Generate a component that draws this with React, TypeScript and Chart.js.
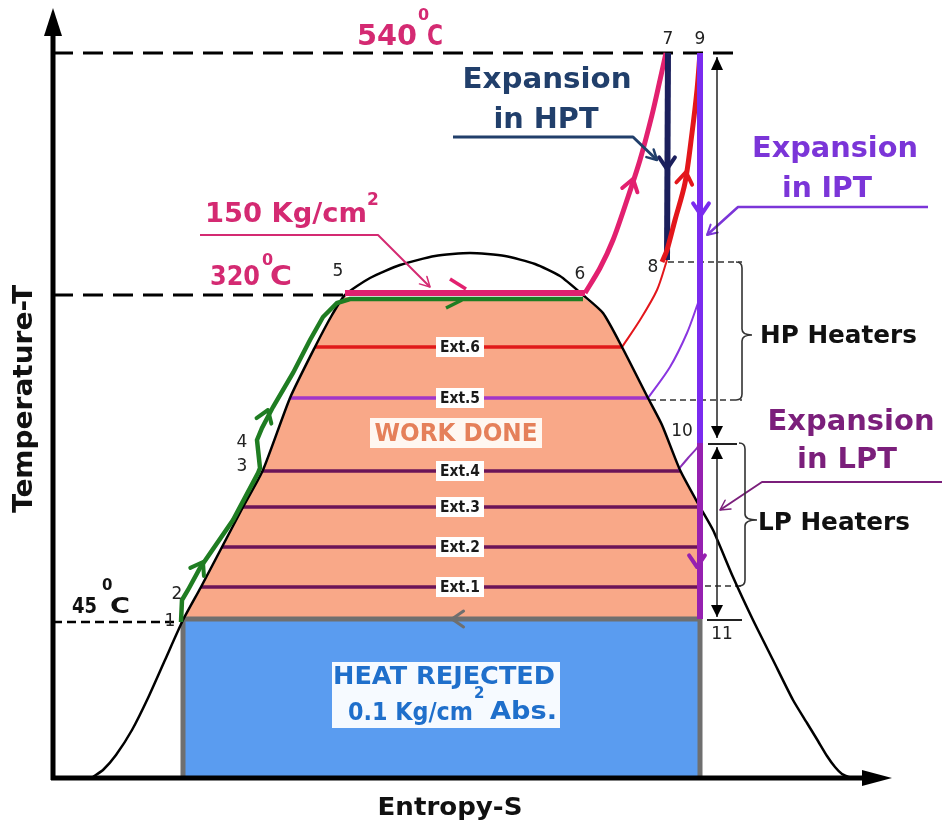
import React, { useEffect, useRef } from 'react';
import { Chart, registerables } from 'chart.js';

Chart.register(...registerables);

// ===== Data (s = entropy axis units, T = temperature axis units) =====
// Saturation dome
const domeS = [93, 103, 116, 132, 148, 165, 183, 201, 222, 243, 263, 290, 315, 332, 345, 370, 400, 435, 470, 505, 535, 560, 583, 603, 622, 648, 662, 680, 700, 713, 733, 753, 773, 793, 807, 818, 827, 835, 842, 849];
const domeT = [47, 54, 69, 94, 126, 164, 204, 237, 277, 317, 354, 426, 477, 509, 529, 546, 559, 568, 571, 568, 560, 548, 529, 511, 477, 426, 399, 354, 317, 294, 247, 204, 164, 124, 101, 83, 68, 57, 50, 47];
// Work done area
const workS = [183, 201, 222, 243, 263, 290, 315, 332, 345, 583, 603, 622, 648, 662, 680, 700, 700];
const workT = [205, 237, 277, 317, 354, 426, 477, 509, 527, 527, 511, 477, 426, 399, 354, 317, 205];
// Heat rejected area
const rejS = [183, 700, 700, 183];
const rejT = [205, 205, 46, 46];
// Feed water heating 1-2-3-4-5 (green)
const feedS = [181, 182, 188, 200, 233, 258, 260, 257, 262, 273, 293, 310, 323, 337, 350, 583];
const feedT = [202, 224, 234, 256, 304, 351, 356, 384, 396, 417, 451, 484, 507, 521, 525, 525];
// Evaporation 5-6
const boilS = [345, 585];
const boilT = [531, 531];
// Superheating 6-7
const superS = [585, 600, 613, 627, 640, 652, 660, 666];
const superT = [531, 556, 584, 624, 664, 709, 744, 771];
// HPT expansion 7-8
const hptS = [668, 667];
const hptT = [771, 564];
// Reheat 8-9
const reheatS = [662, 667, 675, 685, 692, 697, 700];
const reheatT = [562, 574, 604, 641, 691, 734, 771];
// IPT expansion 9-10, LPT expansion 10-11
const iptS = [700, 700];
const iptT = [771, 381];
const lptS = [700, 700];
const lptT = [383, 205];
// Extraction lines
const extNames = ['Ext.1', 'Ext.2', 'Ext.3', 'Ext.4', 'Ext.5', 'Ext.6'];
const extT = [237, 277, 317, 353, 426, 477];
const extStartS = [201, 222, 243, 263, 290, 315];
const extEndS = [700, 700, 700, 680, 648, 622];
const extLabelS = 460;
// Bleed curves
const ext6CurveS = [622, 640, 657, 667];
const ext6CurveT = [477, 504, 534, 564];
const ext5CurveS = [648, 670, 687, 698];
const ext5CurveT = [426, 457, 491, 521];
const ext4CurveS = [678, 688, 697, 700];
const ext4CurveT = [354, 366, 376, 381];
// Isotherms (540, 320, 45 °C)
const isoT = [771, 529, 202];
const isoEndS = [740, 345, 178];
// Heater limits
const heaterLineS0 = [668, 650, 705];
const heaterLineS1 = [742, 742, 745];
const heaterLineT = [562, 424, 238];
// State point labels
const pointNames = ['1', '2', '3', '4', '5', '6', '7', '8', '9', '10', '11'];
const pointS = [170, 177, 242, 242, 338, 580, 668, 653, 700, 682, 722];
const pointT = [202, 229, 357, 381, 552, 549, 784, 556, 784, 392, 189];
// Axes
const axisS0 = 53;
const axisT0 = 46;
const axisSMax = 892;
const axisTMax = 816;

// ===== Styles =====
const FONT = '"DejaVu Sans", "Liberation Sans", Arial, sans-serif';
const ORANGE = '#F9A888';
const BLUE = '#5A9CF0';
const GRAY = '#6F6F6F';
const GREEN = '#1F7D22';
const PINK = '#E2206F';
const PINK_TXT = '#D42A72';
const NAVY = '#1B1F5C';
const RED = '#E3161B';
const VIOLET = '#7A2BEF';
const PURPLE = '#9620B0';
const EXT_DARK = '#6B1458';
const extColors = [EXT_DARK, EXT_DARK, EXT_DARK, EXT_DARK, '#A236C9', '#E01A1A'];

const pts = (s: number[], t: number[]) => s.map((v, i) => ({ x: v, y: t[i] }));
const lineDs = (s: number[], t: number[], color: string, width: number, extra: any = {}) => ({
  data: pts(s, t),
  showLine: true,
  borderColor: color,
  backgroundColor: color,
  borderWidth: width,
  pointRadius: 0,
  pointHoverRadius: 0,
  fill: false,
  tension: 0,
  ...extra,
});

function drawText(ctx: CanvasRenderingContext2D, str: string, x: number, y: number, font: string, color: string, align: string = 'left', fit?: number, baseline: CanvasTextBaseline = 'alphabetic') {
  ctx.save();
  ctx.font = font;
  ctx.fillStyle = color;
  ctx.textBaseline = baseline;
  ctx.textAlign = 'left';
  const w = ctx.measureText(str).width;
  const k = fit ? fit / w : 1;
  const ww = w * k;
  let left = x;
  if (align === 'center') left = x - ww / 2;
  else if (align === 'right') left = x - ww;
  ctx.translate(left, y);
  ctx.scale(k, 1);
  ctx.fillText(str, 0, 0);
  ctx.restore();
}

function chevron(ctx: CanvasRenderingContext2D, tx: number, ty: number, bx: number, by: number, color: string, width: number, len = 14, spread = 0.6) {
  const a = Math.atan2(ty - by, tx - bx);
  ctx.save();
  ctx.strokeStyle = color;
  ctx.lineWidth = width;
  ctx.lineCap = 'round';
  ctx.lineJoin = 'round';
  ctx.beginPath();
  ctx.moveTo(tx - len * Math.cos(a - spread), ty - len * Math.sin(a - spread));
  ctx.lineTo(tx, ty);
  ctx.lineTo(tx - len * Math.cos(a + spread), ty - len * Math.sin(a + spread));
  ctx.stroke();
  ctx.restore();
}

function tri(ctx: CanvasRenderingContext2D, tx: number, ty: number, angle: number, len: number, hw: number, color: string) {
  const c = Math.cos(angle), s = Math.sin(angle);
  const bx = tx - len * c, by = ty - len * s;
  ctx.save();
  ctx.beginPath();
  ctx.moveTo(tx, ty);
  ctx.lineTo(bx - hw * s, by + hw * c);
  ctx.lineTo(bx + hw * s, by - hw * c);
  ctx.closePath();
  ctx.fillStyle = color;
  ctx.fill();
  ctx.restore();
}

function poly(ctx: CanvasRenderingContext2D, p: number[][], color: string, width: number) {
  ctx.save();
  ctx.strokeStyle = color;
  ctx.lineWidth = width;
  ctx.lineJoin = 'round';
  ctx.beginPath();
  p.forEach((q, i) => (i ? ctx.lineTo(q[0], q[1]) : ctx.moveTo(q[0], q[1])));
  ctx.stroke();
  ctx.restore();
}

function brace(ctx: CanvasRenderingContext2D, x: number, yTop: number, yBot: number, yMid: number, tipX: number) {
  const r = 6;
  ctx.save();
  ctx.strokeStyle = '#333';
  ctx.lineWidth = 1.6;
  ctx.beginPath();
  ctx.moveTo(x - r, yTop);
  ctx.quadraticCurveTo(x, yTop, x, yTop + r);
  ctx.lineTo(x, yMid - r);
  ctx.quadraticCurveTo(x, yMid, tipX, yMid);
  ctx.quadraticCurveTo(x, yMid, x, yMid + r);
  ctx.lineTo(x, yBot - r);
  ctx.quadraticCurveTo(x, yBot, x - r, yBot);
  ctx.stroke();
  ctx.restore();
}

const annotPlugin = {
  id: 'tsAnnot',
  beforeDatasetsDraw(chart: any) {
    const ctx = chart.ctx;
    chart.data.datasets.forEach((ds: any, i: number) => {
      if (!ds.polyFill) return;
      const meta = chart.getDatasetMeta(i);
      ctx.save();
      ctx.beginPath();
      meta.data.forEach((p: any, j: number) => (j ? ctx.lineTo(p.x, p.y) : ctx.moveTo(p.x, p.y)));
      ctx.closePath();
      ctx.fillStyle = ds.polyFill;
      ctx.fill();
      ctx.restore();
    });
  },
  afterDatasetsDraw(chart: any) {
    const ctx: CanvasRenderingContext2D = chart.ctx;
    const X = (v: number) => chart.scales.x.getPixelForValue(v);
    const Y = (v: number) => chart.scales.y.getPixelForValue(v);
    const P = (a: number[][]) => a.map((q) => [X(q[0]), Y(q[1])]);

    // Axes
    poly(ctx, P([[axisS0, axisT0 - 2], [axisS0, axisTMax - 20]]), '#000', 5);
    poly(ctx, P([[axisS0 - 2, axisT0], [axisSMax - 22, axisT0]]), '#000', 5);
    tri(ctx, X(axisS0), Y(axisTMax), -Math.PI / 2, 28, 9, '#000');
    tri(ctx, X(axisSMax), Y(axisT0), 0, 30, 8, '#000');

    // Flow arrows
    const flow = [
      { tip: [203, 262], back: [190, 240], color: GREEN, w: 4 },
      { tip: [268, 414], back: [262, 398], color: GREEN, w: 4 },
      { tip: [633, 645], back: [627, 624], color: PINK, w: 4 },
      { tip: [686, 652], back: [683, 632], color: RED, w: 4 },
      { tip: [667, 655], back: [667, 680], color: NAVY, w: 4 },
      { tip: [701, 609], back: [701, 635], color: VIOLET, w: 4 },
      { tip: [697, 257], back: [697, 285], color: PURPLE, w: 4 },
      { tip: [452, 205], back: [475, 205], color: GRAY, w: 3 },
    ];
    flow.forEach((f) => chevron(ctx, X(f.tip[0]), Y(f.tip[1]), X(f.back[0]), Y(f.back[1]), f.color, f.w));
    poly(ctx, P([[450, 545], [466, 535]]), PINK, 3.5);
    poly(ctx, P([[446, 516], [462, 524]]), GREEN, 3.5);

    // Leaders
    const leaders = [
      { p: [[453, 687], [633, 687], [657, 664]], color: '#213F6B', w: 3 },
      { p: [[928, 617], [738, 617], [707, 589]], color: '#7B35D8', w: 2.5 },
      { p: [[942, 342], [762, 342], [720, 314]], color: '#7B1F7B', w: 2 },
      { p: [[200, 589], [378, 589], [430, 537]], color: '#D42A72', w: 2 },
    ];
    leaders.forEach((l) => {
      const pp = P(l.p);
      poly(ctx, pp, l.color, l.w);
      const n = pp.length;
      chevron(ctx, pp[n - 1][0], pp[n - 1][1], pp[n - 2][0], pp[n - 2][1], l.color, Math.max(1.5, l.w - 0.5), 11, 0.5);
    });

    // Dimension arrows for heaters
    poly(ctx, P([[717, 767], [717, 386]]), '#222', 1.5);
    tri(ctx, X(717), Y(767), -Math.PI / 2, 13, 6, '#000');
    tri(ctx, X(717), Y(386), Math.PI / 2, 12, 6, '#000');
    poly(ctx, P([[708, 380], [737, 380]]), '#222', 2);
    poly(ctx, P([[717, 377], [717, 207]]), '#222', 1.5);
    tri(ctx, X(717), Y(377), -Math.PI / 2, 12, 6, '#000');
    tri(ctx, X(717), Y(207), Math.PI / 2, 12, 6, '#000');
    poly(ctx, P([[707, 204], [742, 204]]), '#222', 2);
    brace(ctx, X(742), Y(562), Y(424), Y(489), X(752));
    brace(ctx, X(745), Y(381), Y(238), Y(304), X(757));

    // Ext labels
    extNames.forEach((name, i) => {
      const cx = X(extLabelS), cy = Y(extT[i]);
      ctx.fillStyle = '#FFFFFF';
      ctx.fillRect(cx - 24, cy - 10, 48, 20);
      drawText(ctx, name, cx, cy + 1, `bold 16px ${FONT}`, '#1A1A1A', 'center', 40, 'middle');
    });

    // WORK DONE
    ctx.fillStyle = '#FFF7F1';
    ctx.fillRect(X(370), Y(406), X(542) - X(370), Y(376) - Y(406));
    drawText(ctx, 'WORK DONE', X(456), Y(383), `bold 24px ${FONT}`, '#E5805A', 'center', 163);

    // HEAT REJECTED
    ctx.fillStyle = '#F6FAFF';
    ctx.fillRect(X(332), Y(162), X(560) - X(332), Y(96) - Y(162));
    drawText(ctx, 'HEAT REJECTED', X(444), Y(140), `bold 25px ${FONT}`, '#1F6FCB', 'center', 222);
    drawText(ctx, '0.1 Kg/cm', X(348), Y(104), `bold 24px ${FONT}`, '#1F6FCB', 'left', 125);
    drawText(ctx, '2', X(474), Y(126), `bold 15px ${FONT}`, '#1F6FCB', 'left');
    drawText(ctx, 'Abs.', X(490), Y(105), `bold 24px ${FONT}`, '#1F6FCB', 'left', 67);

    // Titles
    drawText(ctx, 'Expansion', X(547), Y(736), `bold 28px ${FONT}`, '#213F6B', 'center', 169);
    drawText(ctx, 'in HPT', X(546), Y(696), `bold 28px ${FONT}`, '#213F6B', 'center', 105);
    drawText(ctx, 'Expansion', X(835), Y(667), `bold 28px ${FONT}`, '#7B35D8', 'center', 166);
    drawText(ctx, 'in IPT', X(827), Y(627), `bold 28px ${FONT}`, '#7B35D8', 'center', 90);
    drawText(ctx, 'Expansion', X(851), Y(394), `bold 28px ${FONT}`, '#7B1F7B', 'center', 167);
    drawText(ctx, 'in LPT', X(847), Y(356), `bold 28px ${FONT}`, '#7B1F7B', 'center', 100);
    drawText(ctx, 'HP Heaters', X(760), Y(481), `bold 24px ${FONT}`, '#111', 'left', 157);
    drawText(ctx, 'LP Heaters', X(758), Y(294), `bold 24px ${FONT}`, '#111', 'left', 152);

    // Temperatures / pressure
    drawText(ctx, '540', X(357), Y(779), `bold 28px ${FONT}`, PINK_TXT, 'left', 60);
    drawText(ctx, '0', X(418), Y(804), `bold 16px ${FONT}`, PINK_TXT, 'left');
    drawText(ctx, 'C', X(427), Y(779), `bold 28px ${FONT}`, PINK_TXT, 'left', 16);
    drawText(ctx, '150 Kg/cm', X(205), Y(602), `bold 26px ${FONT}`, PINK_TXT, 'left', 162);
    drawText(ctx, '2', X(367), Y(619), `bold 17px ${FONT}`, PINK_TXT, 'left');
    drawText(ctx, '320', X(210), Y(539), `bold 27px ${FONT}`, PINK_TXT, 'left', 50);
    drawText(ctx, '0', X(262), Y(559), `bold 16px ${FONT}`, PINK_TXT, 'left');
    drawText(ctx, 'C', X(270), Y(539), `bold 27px ${FONT}`, PINK_TXT, 'left', 22);
    drawText(ctx, '45', X(72), Y(211), `bold 22px ${FONT}`, '#111', 'left', 25);
    drawText(ctx, '0', X(102), Y(234), `bold 15px ${FONT}`, '#111', 'left');
    drawText(ctx, 'C', X(110), Y(211), `bold 22px ${FONT}`, '#111', 'left', 20);

    // Point labels
    pointNames.forEach((n, i) => drawText(ctx, n, X(pointS[i]), Y(pointT[i]), `17px ${FONT}`, '#222', 'center', undefined, 'middle'));

    // Axis titles
    drawText(ctx, 'Entropy-S', X(450), Y(9), `bold 25px ${FONT}`, '#111', 'center', 145);
    ctx.save();
    ctx.translate(X(32), Y(425));
    ctx.rotate(-Math.PI / 2);
    drawText(ctx, 'Temperature-T', 0, 0, `bold 26px ${FONT}`, '#111', 'center', 228);
    ctx.restore();
  },
};

export default function App() {
  const ref = useRef<HTMLCanvasElement>(null);
  useEffect(() => {
    document.body.style.margin = '0';
    const layers: any[] = [
      { data: pts(workS, workT), showLine: false, pointRadius: 0, polyFill: ORANGE },
      { data: pts(rejS, rejT), showLine: false, pointRadius: 0, polyFill: BLUE },
    ];
    isoT.forEach((t, i) =>
      layers.push(lineDs([axisS0, isoEndS[i]], [t, t], '#000', i === 2 ? 2.5 : 3, { borderDash: i === 2 ? [9, 5] : [20, 10] }))
    );
    heaterLineT.forEach((t, i) =>
      layers.push(lineDs([heaterLineS0[i], heaterLineS1[i]], [t, t], '#333', 1.5, { borderDash: [6, 4] }))
    );
    extT.forEach((t, i) => layers.push(lineDs([extStartS[i], extEndS[i]], [t, t], extColors[i], 3.5)));
    layers.push(lineDs(ext6CurveS, ext6CurveT, RED, 2, { tension: 0.3 }));
    layers.push(lineDs(ext5CurveS, ext5CurveT, '#8A35E0', 2, { tension: 0.3 }));
    layers.push(lineDs(ext4CurveS, ext4CurveT, '#8A2FB8', 2, { tension: 0.3 }));
    layers.push(lineDs([183, 700], [205, 205], GRAY, 5));
    layers.push(lineDs([183, 183], [205, 46], GRAY, 5));
    layers.push(lineDs([700, 700], [205, 46], GRAY, 5));
    layers.push(lineDs(domeS, domeT, '#000', 2.5, { tension: 0.2 }));
    layers.push(lineDs(feedS, feedT, GREEN, 4.5));
    layers.push(lineDs(boilS, boilT, PINK, 6));
    layers.push(lineDs(superS, superT, PINK, 5, { tension: 0.3 }));
    layers.push(lineDs(hptS, hptT, NAVY, 6));
    layers.push(lineDs(reheatS, reheatT, RED, 5, { tension: 0.3 }));
    layers.push(lineDs(lptS, lptT, PURPLE, 6));
    layers.push(lineDs(iptS, iptT, VIOLET, 6));
    const datasets = layers.map((d, i) => ({ ...d, order: layers.length - i }));

    const chart = new Chart(ref.current as HTMLCanvasElement, {
      type: 'scatter',
      data: { datasets },
      options: {
        animation: false,
        responsive: false,
        devicePixelRatio: 1,
        events: [],
        layout: { padding: 0 },
        plugins: { legend: { display: false }, tooltip: { enabled: false } },
        scales: {
          x: { type: 'linear', min: 0, max: 942, display: false },
          y: { type: 'linear', min: 0, max: 824, display: false },
        },
      },
      plugins: [annotPlugin],
    } as any);
    return () => chart.destroy();
  }, []);
  return (
    <div style={{ position: 'fixed', left: 0, top: 0, width: 942, height: 824, background: '#fff' }}>
      <canvas ref={ref} width={942} height={824} style={{ display: 'block', width: 942, height: 824 }} />
    </div>
  );
}
